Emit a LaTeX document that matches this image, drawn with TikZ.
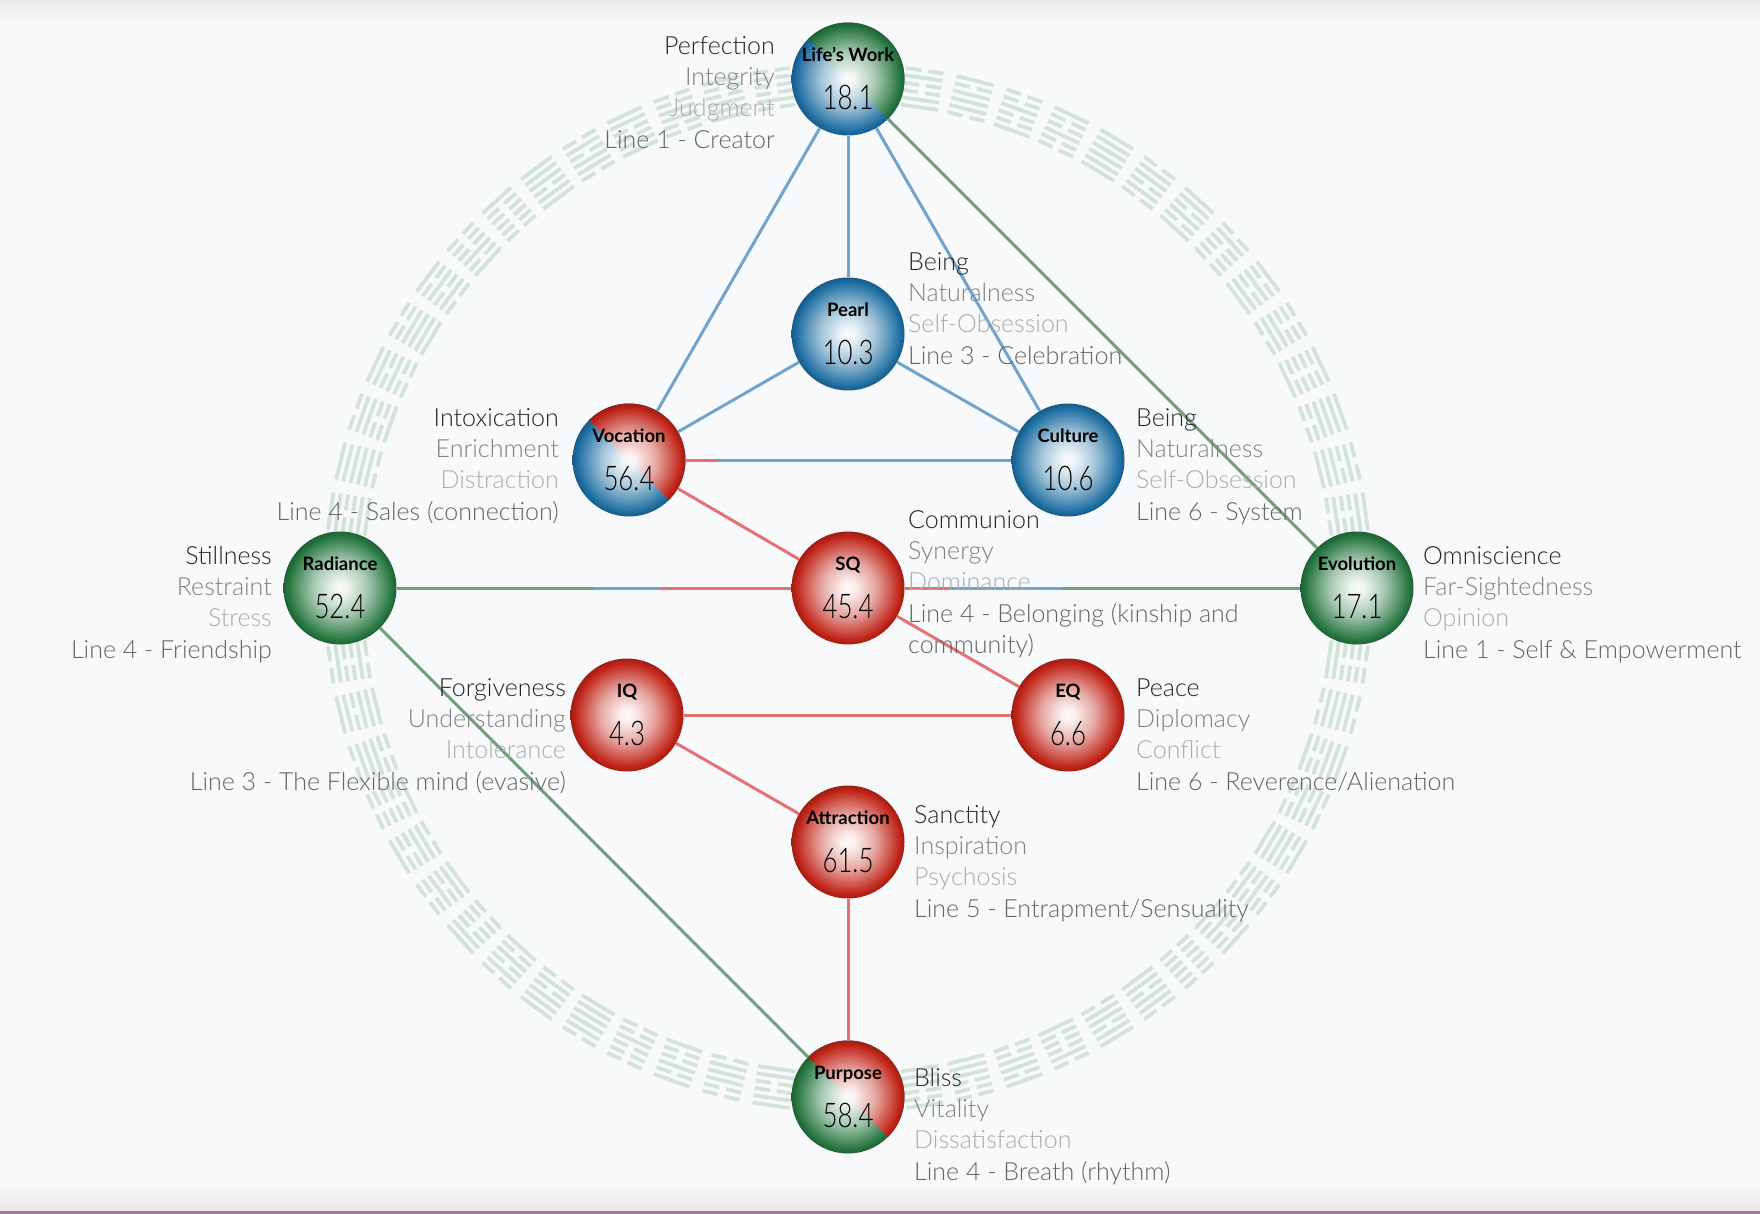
\documentclass[tikz,border=0pt]{standalone}
\usepackage{fontspec}
\setmainfont{Lato}[UprightFont=* Light, BoldFont=* Bold]
\usetikzlibrary{calc}
\definecolor{canvas}{RGB}{248,249,251}
\definecolor{orbblue}{RGB}{30,110,162}
\definecolor{orbred}{RGB}{192,36,24}
\definecolor{orbgreen}{RGB}{38,118,64}
\definecolor{linkblue}{RGB}{112,164,204}
\definecolor{linkred}{RGB}{228,114,114}
\definecolor{linkgreen}{RGB}{112,160,124}
\definecolor{hexgreen}{RGB}{210,228,218}
\definecolor{tone1}{RGB}{36,36,36}
\definecolor{tone2}{RGB}{128,128,128}
\definecolor{tone3}{RGB}{172,172,172}
\definecolor{tone4}{RGB}{100,100,100}
\definecolor{edgeline}{RGB}{160,120,150}
\colorlet{sphcol}{orbblue}
\pgfdeclareradialshading[sphcol]{sphere}{\pgfpoint{0bp}{0bp}}{%
  color(0bp)=(sphcol!3!white); color(3bp)=(sphcol!7!white);
  color(12bp)=(sphcol!40!white); color(19bp)=(sphcol!78!white);
  color(23bp)=(sphcol); color(25bp)=(sphcol!82!black); color(50bp)=(sphcol!82!black)}
\newcommand{\orb}[2]{{\bfseries #1}\\{\fontsize{34}{48}\selectfont\scalebox{0.76}[1]{#2}}}
\newcommand{\traits}[4]{\strut\color{tone1}#1\\\color{tone2}#2\\\color{tone3}#3\\\color{tone4}#4}

\begin{document}
\begin{tikzpicture}[
    x=1pt, y=-1pt,
    sphere/.style={shading=sphere, /utils/exec={\colorlet{sphcol}{#1}}},
    orb/.style={
      circle,
      minimum size=113pt,
      inner sep=0pt,
      align=center,
      font=\fontsize{18.5}{48}\selectfont
    },
    info/.style={inner sep=0pt, text=tone4, font=\fontsize{25}{31.4}\selectfont},
    infoL/.style={info, align=left, anchor=north west},
    infoR/.style={info, align=right, anchor=north east},
    link/.style={line width=3pt},
    hexbar/.style={draw=hexgreen, line width=3.8pt}
  ]
    \useasboundingbox (0,0) rectangle (1760,1214);
    \fill[canvas] (0,0) rectangle (1760,1214);
    \shade[top color=black!8, bottom color=canvas] (0,0) rectangle (1760,22);
    \shade[top color=canvas, bottom color=black!8] (0,1180) rectangle (1760,1211);
    \fill[edgeline] (0,1211) rectangle (1760,1214);

    \coordinate (hub) at (848,588);
    \foreach \k in {0,...,63}{
      \pgfmathtruncatemacro{\code}{mod(\k*37+13,64)}
      \begin{scope}[shift={(hub)}, rotate=\k*5.625+2.8125]
        \foreach \j in {0,...,5}{
          \pgfmathtruncatemacro{\bit}{mod(floor(\code/2^\j),2)}
          \pgfmathsetmacro{\rr}{486+7.4*\j}
          \ifnum\bit=1
            \draw[hexbar] (\rr,-19) -- (\rr,19);
          \else
            \draw[hexbar] (\rr,-19) -- (\rr,-3.5) (\rr,3.5) -- (\rr,19);
          \fi
        }
      \end{scope}
    }

    \coordinate (lw-c) at (848,79);
    \coordinate (pearl-c) at (848,334);
    \coordinate (voc-c) at (629,460);
    \coordinate (cul-c) at (1068,460);
    \coordinate (sq-c) at (hub);
    \coordinate (rad-c) at (340,588);
    \coordinate (evo-c) at (1357,588);
    \coordinate (iq-c) at (627,715);
    \coordinate (eq-c) at (1068,715);
    \coordinate (attr-c) at (848,842);
    \coordinate (purp-c) at (848,1097);

    \foreach \n/\c in {lw/orbblue, pearl/orbblue, voc/orbblue, cul/orbblue, sq/orbred, rad/orbgreen,
                       evo/orbgreen, iq/orbred, eq/orbred, attr/orbred, purp/orbgreen}
      \shade[sphere=\c] (\n-c) circle[radius=56.5];
    \foreach \n/\c in {lw/orbgreen, voc/orbred, purp/orbred}{
      \begin{scope}
        \clip ($(\n-c)+(-60,-60)$) -- ($(\n-c)+(60,-60)$) -- ($(\n-c)+(60,60)$) -- cycle;
        \shade[sphere=\c] (\n-c) circle[radius=56.5];
      \end{scope}
    }

    \node[orb] (lw) at (lw-c) {\orb{Life’s Work}{18.1}};
    \node[orb] (pearl) at (pearl-c) {\orb{Pearl}{10.3}};
    \node[orb] (voc) at (voc-c) {\orb{Vocation}{56.4}};
    \node[orb] (cul) at (cul-c) {\orb{Culture}{10.6}};
    \node[orb] (sq) at (sq-c) {\orb{SQ}{45.4}};
    \node[orb] (rad) at (rad-c) {\orb{Radiance}{52.4}};
    \node[orb] (evo) at (evo-c) {\orb{Evolution}{17.1}};
    \node[orb] (iq) at (iq-c) {\orb{IQ}{4.3}};
    \node[orb] (eq) at (eq-c) {\orb{EQ}{6.6}};
    \node[orb] (attr) at (attr-c) {\orb{Attraction}{61.5}};
    \node[orb] (purp) at (purp-c) {\orb{Purpose}{58.4}};

    \draw[link, linkblue] (lw) -- (voc);
    \draw[link, linkblue] (lw) -- (pearl);
    \draw[link, linkblue] (lw) -- (cul);
    \draw[link, linkgreen] (lw) -- (evo);
    \draw[link, linkblue] (pearl) -- (voc);
    \draw[link, linkblue] (pearl) -- (cul);
    \draw[link, linkblue] (voc) -- (cul);
    \draw[link, linkred] (voc) -- ($(voc)!0.2!(cul)$);
    \draw[link, linkred] (voc) -- (sq);
    \draw[link, linkgreen] (rad) -- (sq);
    \draw[link, linkblue] ($(rad)!0.5!(sq)$) -- ($(rad)!0.63!(sq)$);
    \draw[link, linkred] ($(rad)!0.63!(sq)$) -- (sq);
    \draw[link, linkgreen] (sq) -- (evo);
    \draw[link, linkblue] ($(sq)!0.2!(evo)$) -- ($(sq)!0.42!(evo)$);
    \draw[link, linkred] (sq) -- ($(sq)!0.2!(evo)$);
    \draw[link, linkred] (sq) -- (eq);
    \draw[link, linkred] (iq) -- (eq);
    \draw[link, linkred] (iq) -- (attr);
    \draw[link, linkred] (attr) -- (purp);
    \draw[link, linkgreen] (rad) -- (purp);

    \node[infoR] (lw-txt) at (775,32) {\traits{Perfection}{Integrity}{Judgment}{Line 1 - Creator}};
    \node[infoL] (pearl-txt) at (908,248) {\traits{Being}{Naturalness}{Self-Obsession}{Line 3 - Celebration}};
    \node[infoR] (voc-txt) at (559,404) {\traits{Intoxication}{Enrichment}{Distraction}{Line 4 - Sales (connection)}};
    \node[infoL] (cul-txt) at (1136,404) {\traits{Being}{Naturalness}{Self-Obsession}{Line 6 - System}};
    \node[infoL] (sq-txt) at (908,506) {\traits{Communion}{Synergy}{Dominance}{Line 4 - Belonging (kinship and\\community)}};
    \node[infoR] (rad-txt) at (272,542) {\traits{Stillness}{Restraint}{Stress}{Line 4 - Friendship}};
    \node[infoL] (evo-txt) at (1423,542) {\traits{Omniscience}{Far-Sightedness}{Opinion}{Line 1 - Self \& Empowerment}};
    \node[infoR] (iq-txt) at (566,674) {\traits{Forgiveness}{Understanding}{Intolerance}{Line 3 - The Flexible mind (evasive)}};
    \node[infoL] (eq-txt) at (1136,674) {\traits{Peace}{Diplomacy}{Conflict}{Line 6 - Reverence/Alienation}};
    \node[infoL] (attr-txt) at (914,801) {\traits{Sanctity}{Inspiration}{Psychosis}{Line 5 - Entrapment/Sensuality}};
    \node[infoL] (purp-txt) at (914,1064) {\traits{Bliss}{Vitality}{Dissatisfaction}{Line 4 - Breath (rhythm)}};
  \end{tikzpicture}
\end{document}
